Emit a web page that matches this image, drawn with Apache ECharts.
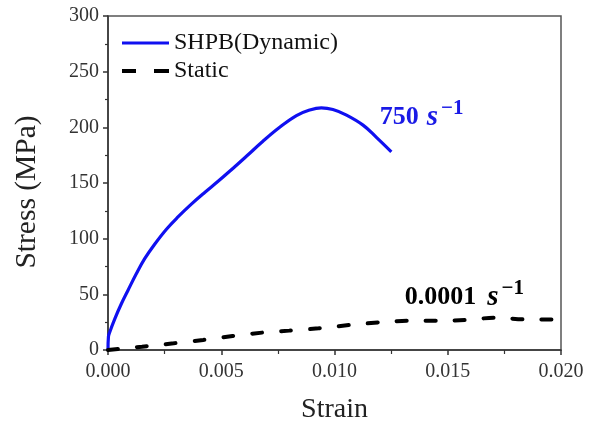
<!DOCTYPE html>
<html>
<head>
<meta charset="utf-8">
<script src="https://cdn.jsdelivr.net/npm/echarts@6/dist/echarts.min.js"></script>
<style>html,body{margin:0;padding:0;background:#fff}#c{width:594px;height:423px}</style>
</head>
<body>
<div id="c"></div>
<script>
// Dynamic (SHPB) curve
var dynStrain = [0, 0.00002, 0.000075, 0.0003, 0.00059, 0.00088, 0.00125, 0.00162, 0.00206, 0.00258, 0.00309, 0.00368, 0.00427, 0.00486, 0.00537, 0.00611, 0.00684, 0.00758, 0.00832, 0.0089, 0.00942, 0.00993, 0.01053, 0.01126, 0.01185, 0.01251];
var dynStress = [0, 12, 16, 28, 41.5, 53.5, 68.5, 82, 95, 108.5, 119.5, 131, 141.5, 151.5, 160.5, 174, 187.5, 200, 210.5, 215.5, 217.5, 216, 211, 202, 191, 178];
// Static curve
var staStrain = [0, 0.0015, 0.0029, 0.0042, 0.0055, 0.0068, 0.008, 0.0093, 0.0107, 0.012, 0.0133, 0.0146, 0.0158, 0.0171, 0.0185, 0.02];
var staStress = [0, 3, 6, 9, 12.6, 15.6, 17.4, 19.5, 22.5, 24.9, 26.3, 26.3, 27, 29, 27.5, 27.5];
// Annotations: [strain, stress]
var dynRateAt = [0.0120, 209];
var staRateAt = [0.0131, 47.5];
var dynRateText = ['750', 's', '\u22121'];
var staRateText = ['0.0001', 's', '\u22121'];

function zip(a, b) { return a.map(function (v, i) { return [v, b[i]]; }); }
var SERIF = 'Liberation Serif';
function rateLabel(t, color, gap) {
  return {
    show: true, position: [0, 0], align: 'left', verticalAlign: 'middle',
    formatter: '{n|' + t[0] + '}{s|' + t[1] + '}{p|' + t[2] + '}',
    rich: {
      n: {fontFamily: SERIF, fontWeight: 'bold', fontSize: 26, color: color},
      s: {fontFamily: SERIF, fontWeight: 'bold', fontStyle: 'italic', fontSize: 29, color: color, padding: [0, 0, 0, gap]},
      p: {fontFamily: SERIF, fontWeight: 'bold', fontSize: 21, color: color, padding: [0, 0, 17, 3]}
    }
  };
}

var chart = echarts.init(document.getElementById('c'), null, {renderer: 'canvas'});
chart.setOption({
  animation: false,
  backgroundColor: '#fff',
  grid: {left: 108, top: 16, right: 33, bottom: 73, outerBoundsMode: 'none', containLabel: false,
    show: true, borderColor: '#555', borderWidth: 1.5},
  legend: {
    orient: 'vertical', left: 117, top: 26, itemWidth: 47, itemHeight: 14, itemGap: 4,
    textStyle: {fontFamily: SERIF, fontSize: 24, color: '#111', lineHeight: 22},
    data: [
      {name: 'SHPB(Dynamic)', icon: 'path://M0,0H47V3H0Z', itemStyle: {color: '#1010f0'}},
      {name: 'Static', icon: 'path://M0,0H14V4H0ZM32,0H47V4H32Z', itemStyle: {color: '#000'}}
    ]
  },
  xAxis: {
    type: 'value', min: 0, max: 0.02, interval: 0.005,
    name: 'Strain', nameLocation: 'middle', nameGap: 46,
    nameTextStyle: {fontFamily: SERIF, fontSize: 28, color: '#222'},
    axisLine: {show: true, lineStyle: {color: '#333', width: 1.5}},
    axisTick: {show: true, length: 5, inside: false, lineStyle: {color: '#333', width: 1.5}},
    minorTick: {show: true, splitNumber: 2, length: 4, lineStyle: {color: '#333', width: 1.2}},
    splitLine: {show: false},
    axisLabel: {fontFamily: SERIF, fontSize: 20, color: '#333', margin: 12,
      formatter: function (v) { return v.toFixed(3); }}
  },
  yAxis: {
    type: 'value', min: 0, max: 300, interval: 50,
    name: 'Stress (MPa)', nameLocation: 'middle', nameGap: 66,
    nameTextStyle: {fontFamily: SERIF, fontSize: 29.5, color: '#222', padding: [0, 18, 0, 0]},
    axisLine: {show: true, lineStyle: {color: '#333', width: 1.5}},
    axisTick: {show: true, length: 5, lineStyle: {color: '#333', width: 1.5}},
    minorTick: {show: true, splitNumber: 2, length: 3, lineStyle: {color: '#333', width: 1.2}},
    splitLine: {show: false},
    axisLabel: {fontFamily: SERIF, fontSize: 20, color: '#333', margin: 9}
  },
  series: [
    {
      name: 'SHPB(Dynamic)', type: 'line', data: zip(dynStrain, dynStress),
      showSymbol: false, symbol: 'none', smooth: 0.4,
      lineStyle: {color: '#1010f0', width: 3.2}, itemStyle: {color: '#1010f0'},
      markPoint: {symbol: 'circle', symbolSize: 0, silent: true,
        data: [{coord: dynRateAt, label: rateLabel(dynRateText, '#1a1ae6', 8)}]}
    },
    {
      name: 'Static', type: 'line', data: zip(staStrain, staStress),
      showSymbol: false, symbol: 'none', smooth: 0.3,
      lineStyle: {color: '#000', width: 4, type: [10, 19], cap: 'round'}, itemStyle: {color: '#000'},
      markPoint: {symbol: 'circle', symbolSize: 0, silent: true,
        data: [{coord: staRateAt, label: rateLabel(staRateText, '#000', 11)}]}
    }
  ]
});
</script>
</body>
</html>
